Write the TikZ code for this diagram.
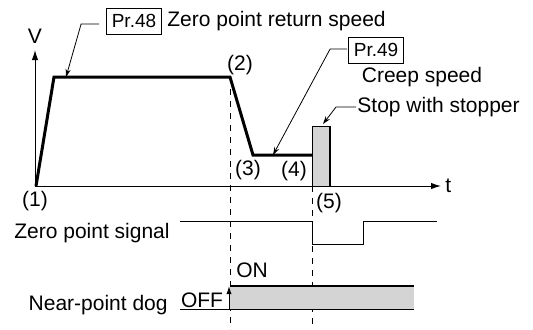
\documentclass[tikz,border=0pt]{standalone}
\usepackage{fontspec}
\setmainfont{Liberation Sans}
\usetikzlibrary{arrows.meta,positioning}

\begin{document}
\begin{tikzpicture}[x=0.5pt,y=-0.5pt,
        txt/.style={inner sep=0pt,font=\fontsize{10.5}{12}\selectfont},
        prbox/.style={draw,line width=0.4pt,inner sep=0pt,minimum width=27.5pt,minimum height=13pt,font=\fontsize{9.5}{10}\selectfont},
        speed/.style={line width=1.5pt,line join=miter},
        guide/.style={dashed,line width=0.5pt},
        signal/.style={line width=0.5pt},
        leader/.style={line width=0.4pt,-{Stealth[length=4pt,width=2.6pt]}},
        stopfill/.style={fill=black!17}]
        \useasboundingbox (0,0) rectangle (533,329);

        % osy
        \coordinate (O) at (35,186);
        \draw[signal,-{Latex[length=5pt,width=3.2pt]}] (O) -- (35,50) coordinate (Vtop);
        \node[txt] (V) at (35,36) {V};
        \draw[signal,-{Latex[length=5pt,width=3.2pt]}] (O) -- (441,186) coordinate (tend);
        \node[txt,anchor=west] (t) at (445,186) {t};

        % svislé pomocné čáry
        \draw[guide] (230,77) -- (230,329);
        \draw[guide] (312,186) -- (312,329);

        % zarážka
        \filldraw[stopfill,line width=0.4pt] (312,186) rectangle (330,126);
        \draw[line width=1pt] (330,126) coordinate (S) -- (330,186);

        % průběh rychlosti
        \draw[speed] (36,186) coordinate (A)
        -- (54,77) coordinate (B)
        -- (230,77) coordinate (C)
        -- (253,155) coordinate (D)
        -- (312,155) coordinate (E);

        \node[txt] (p1) at (35,201) {(1)};
        \node[txt] (p2) at (240,65) {(2)};
        \node[txt] (p3) at (248,170) {(3)};
        \node[txt] (p4) at (294,171) {(4)};
        \node[txt] (p5) at (329,203) {(5)};

        % popisky s odkazy
        \node[prbox] (pr48) at (134,21) {Pr.48};
        \node[txt,anchor=west] (zrs) at (167,21) {Zero point return speed};
        \coordinate (h48) at (66,77);
        \draw[leader] ([xshift=-3.5pt,yshift=-1.5pt]pr48.west) -- ++(-18,0) -- (h48);

        \node[prbox] (pr49) at (376,50) {Pr.49};
        \node[txt] (creep) at (422,77) {Creep speed};
        \coordinate (h49) at (273,155);
        \draw[leader] ([xshift=-0.5pt,yshift=0.5pt]pr49.west) -- ++(-17,0) -- (h49);

        \node[txt,anchor=west] (stop) at (357,107) {Stop with stopper};
        \draw[leader] ([xshift=-0.5pt]stop.west) -- ++(-20,0) -- (323,124);

        % signál nulového bodu
        \node[txt,anchor=east] (zps) at (170,233) {Zero point signal};
        \draw[signal] (180,221) coordinate (Z0)
        -- (312,221) -- (312,244) -- (363,244) -- (363,221)
        -- (437,221) coordinate (Z1);

        % přibližovací vačka
        \node[txt,anchor=east] (npd) at (168,305) {Near-point dog};
        \fill[stopfill] (230,286) rectangle (414,309);
        \draw[signal] (180,309) coordinate (N0) -- (414,309) coordinate (N1);
        \draw[line width=1pt] (230,286) -- (414,286);
        \draw[signal,-{Latex[length=4pt,width=2.6pt]}] (229,309) -- (229,286);
        \node[txt,anchor=base] (off) at (202,307) {OFF};
        \node[txt] (on) at (252,270) {ON};
\end{tikzpicture}
\end{document}
